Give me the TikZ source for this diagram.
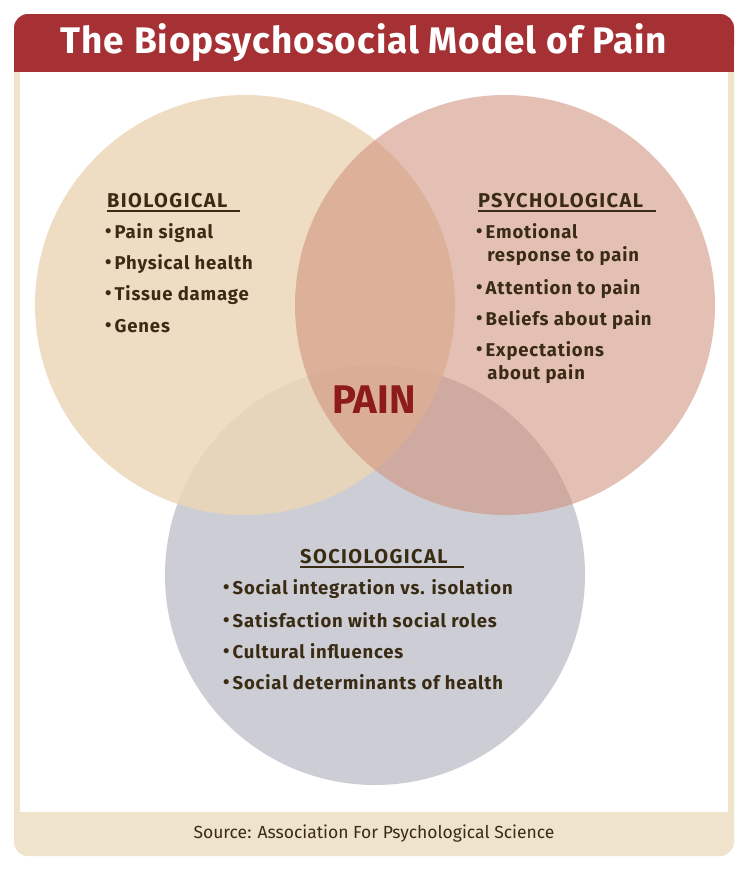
\documentclass[tikz,border=0pt]{standalone}
\usepackage{fontspec}
\setmainfont{Fira Sans}
\newfontfamily\widefont[LetterSpace=2.5]{Fira Sans}
\newfontfamily\itemfont[LetterSpace=4.5]{Fira Sans}
\newfontfamily\headfont[LetterSpace=7]{Fira Sans}
\usetikzlibrary{positioning}
\definecolor{frame}{HTML}{EFE3CC}
\definecolor{hdr}{HTML}{A53134}
\definecolor{ink}{HTML}{3A2C14}
\definecolor{bio}{HTML}{ECD6B6}
\definecolor{psy}{HTML}{CF8E78}
\definecolor{soc}{HTML}{CDCED5}
\definecolor{painred}{HTML}{8E1B1B}
\tikzset{x=1pt,y=-1pt,
 head/.style={anchor=south west,inner sep=0pt,font=\headfont\fontsize{20}{22}\selectfont\bfseries,text=ink},
 item/.style={anchor=west,inner sep=0pt,font=\itemfont\fontsize{18.5}{24}\selectfont\bfseries,text=ink,align=left},
 uline/.style={ink,line width=1.5pt}}
\newcommand{\bul}{\raisebox{0.1ex}{\textbullet}\,}
\begin{document}
\begin{tikzpicture}
\useasboundingbox (0,0) rectangle (750,876);
\fill[white] (0,0) rectangle (750,876);
\fill[frame,rounded corners=14pt] (14,14) rectangle (734,856);
\fill[hdr,rounded corners=14pt] (14,14) rectangle (734,60);
\fill[hdr] (14,40) rectangle (734,72);
\fill[white] (20,72) rectangle (728,812);
\node[text=white,font=\widefont\fontsize{37}{40}\selectfont\bfseries] (title) at (364,43) {The Biopsychosocial Model of Pain};
\node[text=ink,font=\fontsize{17.5}{20}\selectfont] (src) at (374,834) {Source: Association For Psychological Science};
\fill[soc] (375,575) circle (210);
\fill[bio,opacity=0.82] (245,305) circle (210);
\fill[psy,opacity=0.55] (505,305) circle (210);
\node[font=\fontsize{40}{44}\selectfont\bfseries,text=painred] (pain) at (374,400) {PAIN};
% biological
\node[head] (bh) at (107,208) {BIOLOGICAL};
\draw[uline] (bh.south west)++(0,3) -- ++(133,0);
\node[item] (b1) at (105,233) {\bul Pain signal};
\node[item] (b2) at (105,264) {\bul Physical health};
\node[item] (b3) at (105,295) {\bul Tissue damage};
\node[item] (b4) at (105,326) {\bul Genes};
% psychological
\node[head] (ph) at (478,208) {PSYCHOLOGICAL};
\draw[uline] (ph.south west)++(0,3) -- ++(178,0);
\node[item] (p1) at (476,245) {\bul Emotional\\[-1pt]\hspace{0.6em}response to pain};
\node[item] (p2) at (476,289) {\bul Attention to pain};
\node[item] (p3) at (476,320) {\bul Beliefs about pain};
\node[item] (p4) at (476,363) {\bul Expectations\\[-1pt]\hspace{0.6em}about pain};
% sociological
\node[head] (sh) at (300,564) {SOCIOLOGICAL};
\draw[uline] (sh.south west)++(0,3) -- ++(164,0);
\node[item] (s1) at (223,589) {\bul Social integration vs. isolation};
\node[item] (s2) at (223,620) {\bul Satisfaction with social roles};
\node[item] (s3) at (223,651) {\bul Cultural influences};
\node[item] (s4) at (223,682) {\bul Social determinants of health};
\end{tikzpicture}
\end{document}
